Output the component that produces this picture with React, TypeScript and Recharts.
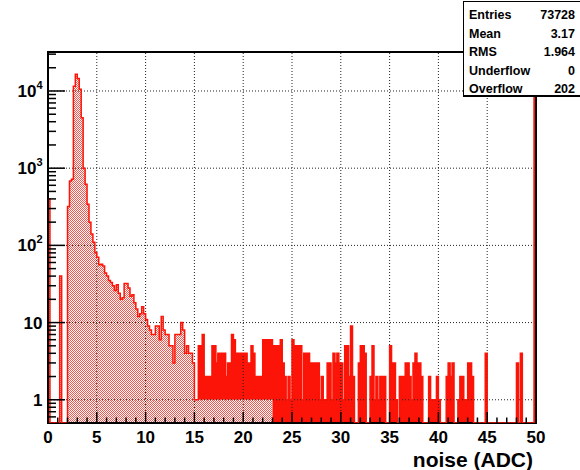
import React from "react";
import {
  ComposedChart,
  Area,
  Line,
  XAxis,
  YAxis,
  ReferenceLine,
  ReferenceArea,
} from "recharts";

const FONT = "'Liberation Sans', Arial, Helvetica, sans-serif";
const RED = "#fb1407";

const BIN_WIDTH = 0.2;
const X_MAX = 50;
const Y_MIN = 0.5;
const Y_MAX = 32000;

// entries per 0.2 ADC bin
const COUNTS_0_10 = [
  400, 0, 0, 0, 0, 0, 40, 0, 0, 0,
  320, 680, 720, 11500, 16500, 14500, 10500, 4500, 1000, 620,
  340, 200, 140, 110, 80, 70, 56, 57, 54, 44,
  40, 35, 33, 30, 26, 31, 24, 20, 21, 32,
  32, 28, 22, 23, 18, 15, 12, 13, 16, 13,
];
const COUNTS_10_20 = [
  11, 9, 8, 7, 7, 9, 9, 6, 12, 8,
  7, 7, 5, 5, 3, 7, 7, 7, 10, 8,
  4, 5, 4, 4, 3, 1, 1, 5, 5, 7,
  2, 2, 2, 2, 5, 5, 3, 4, 4, 4,
  4, 2, 3, 3, 7, 6, 4, 4, 4, 4,
];
const COUNTS_20_30 = [
  4, 4, 3, 3, 5, 4, 2, 2, 2, 2,
  6, 6, 6, 6, 6, 5, 5, 5, 5, 6,
  3, 2, 1, 2, 1, 6, 5, 5, 5, 5,
  1, 4, 4, 4, 3, 3, 3, 3, 3, 1,
  2, 1, 1, 3, 3, 1, 4, 3, 4, 3,
];
const COUNTS_30_40 = [
  3, 1, 5, 5, 2, 9, 2, 0, 0, 3,
  5, 5, 4, 0, 0, 2, 5, 1, 2, 1,
  2, 2, 2, 0, 0, 5, 3, 3, 1, 0,
  2, 2, 2, 3, 3, 2, 1, 3, 4, 3,
  3, 2, 0, 0, 0, 2, 1, 1, 1, 2,
];
const COUNTS_40_50 = [
  1, 0, 0, 0, 2, 3, 2, 3, 0, 0,
  1, 2, 2, 1, 1, 3, 3, 2, 0, 0,
  0, 0, 0, 0, 4, 0, 0, 0, 0, 0,
  0, 0, 0, 0, 0, 0, 0, 0, 0, 0,
  3, 0, 4, 0, 0, 0, 0, 0, 0, 30000,
];

const X_MAJOR = [0, 5, 10, 15, 20, 25, 30, 35, 40, 45, 50];
const Y_DECADES = [1, 10, 100, 1000, 10000];

const STATS_LABELS = ["Entries", "Mean", "RMS", "Underflow", "Overflow"];
const STATS_VALUES = ["73728", "3.17", "1.964", "0", "202"];

// the print shows the dotted fill fully up to 15.4 and only under one entry up to 23
const DOTS_FULL_END = 15.4;
const DOTS_LOW_END = 23;

const COUNTS = [
  ...COUNTS_0_10,
  ...COUNTS_10_20,
  ...COUNTS_20_30,
  ...COUNTS_30_40,
  ...COUNTS_40_50,
];

const data = COUNTS.map((count, i) => {
  const x = Math.round(i * BIN_WIDTH * 10) / 10;
  const dots = x < DOTS_FULL_END ? count : x < DOTS_LOW_END ? Math.min(count, 1) : 0;
  return { x, count, dots };
});
data.push({ ...data[data.length - 1], x: X_MAX });

const X_TICKS = Array.from({ length: X_MAX + 1 }, (_, i) => i);
const Y_TICKS = [0.6, 0.7, 0.8, 0.9]
  .concat(...Y_DECADES.map((d) => [1, 2, 3, 4, 5, 6, 7, 8, 9].map((m) => m * d)))
  .filter((v) => v < Y_MAX);

const floorLog = (v: number) => Math.max(v, Y_MIN);

const XTick = ({ x, y, payload }: any) => {
  const v = payload.value;
  const major = v % 5 === 0;
  return (
    <g>
      <line x1={x} x2={x} y1={y} y2={y - (major ? 11 : 5.5)} stroke="#000" strokeWidth={1.5} />
      {major && (
        <text
          x={x}
          y={y + 20}
          textAnchor="middle"
          fontFamily={FONT}
          fontWeight="bold"
          fontSize={17}
          fill="#000"
        >
          {v}
        </text>
      )}
    </g>
  );
};

const YTick = ({ x, y, payload }: any) => {
  const v = payload.value;
  const lg = Math.log10(v);
  const exp = Math.round(lg);
  const major = Math.abs(lg - exp) < 1e-9;
  return (
    <g>
      <line x1={x} x2={x + (major ? 17 : 8)} y1={y} y2={y} stroke="#000" strokeWidth={1.5} />
      {major && (
        <text
          x={x - 5.5}
          y={y}
          dy={6}
          textAnchor="end"
          fontFamily={FONT}
          fontWeight="bold"
          fontSize={17}
          fill="#000"
        >
          {exp >= 2 ? (
            <>
              10
              <tspan fontSize={11} dy={-8}>
                {exp}
              </tspan>
            </>
          ) : (
            String(v)
          )}
        </text>
      )}
    </g>
  );
};

const StatsBox = () => (
  <div
    style={{
      position: "absolute",
      left: 463,
      top: 1,
      width: 122,
      height: 96,
      background: "#fff",
      border: "1.5px solid #000",
      borderBottomWidth: 2.5,
      fontFamily: FONT,
      fontWeight: "bold",
      fontSize: 12.5,
      paddingTop: 4,
      boxSizing: "border-box",
    }}
  >
    {STATS_LABELS.map((label, i) => (
      <div
        key={label}
        style={{
          height: 18.6,
          lineHeight: "18.6px",
          display: "flex",
          justifyContent: "space-between",
          paddingLeft: 5,
          paddingRight: 9,
        }}
      >
        <span>{label}</span>
        <span>{STATS_VALUES[i]}</span>
      </div>
    ))}
  </div>
);

const App = () => (
  <div
    style={{
      position: "absolute",
      left: 0,
      top: 0,
      width: 580,
      height: 470,
      overflow: "hidden",
      background: "#fff",
    }}
  >
    <ComposedChart
      width={580}
      height={470}
      data={data}
      margin={{ top: 52, right: 44, bottom: 0, left: 0 }}
    >
      <defs>
        <pattern id="dots" patternUnits="userSpaceOnUse" width={2} height={2}>
          <rect x={0} y={0} width={1} height={1} fill="#f7574e" />
          <rect x={1} y={1} width={1} height={1} fill="#f7574e" />
        </pattern>
      </defs>
      {X_MAJOR.slice(1, -1).map((v) => (
        <ReferenceLine key={"gx" + v} x={v} stroke="#222" strokeDasharray="1 2" />
      ))}
      {Y_DECADES.map((v) => (
        <ReferenceLine key={"gy" + v} y={v} stroke="#222" strokeDasharray="1 2" />
      ))}
      <XAxis
        type="number"
        dataKey="x"
        domain={[0, X_MAX]}
        allowDataOverflow
        ticks={X_TICKS}
        interval={0}
        tick={<XTick />}
        tickLine={false}
        axisLine={false}
        tickSize={0}
        tickMargin={0}
        height={47}
        label={{
          value: "noise (ADC)",
          position: "insideBottomRight",
          offset: 3,
          fill: "#000",
          fontSize: 21,
          fontWeight: "bold",
          fontFamily: FONT,
        }}
      />
      <YAxis
        type="number"
        scale="log"
        domain={[Y_MIN, Y_MAX]}
        allowDataOverflow
        ticks={Y_TICKS}
        interval={0}
        tick={<YTick />}
        tickLine={false}
        axisLine={false}
        tickSize={0}
        tickMargin={0}
        width={48}
      />
      <Area
        type="stepAfter"
        dataKey={(d: any) => [floorLog(d.dots), floorLog(d.count)]}
        fill={RED}
        fillOpacity={1}
        stroke="none"
        isAnimationActive={false}
      />
      <Area
        type="stepAfter"
        dataKey={(d: any) => floorLog(d.dots)}
        baseValue={Y_MIN}
        fill="url(#dots)"
        fillOpacity={1}
        stroke="none"
        isAnimationActive={false}
      />
      <Line
        type="stepAfter"
        dataKey={(d: any) => floorLog(d.count)}
        stroke={RED}
        strokeWidth={1.5}
        dot={false}
        activeDot={false}
        isAnimationActive={false}
      />
      <ReferenceArea
        x1={0}
        x2={X_MAX}
        y1={Y_MIN}
        y2={Y_MAX}
        fill="none"
        fillOpacity={0}
        stroke="#000"
        strokeWidth={2}
      />
    </ComposedChart>
    <StatsBox />
  </div>
);

export default App;
